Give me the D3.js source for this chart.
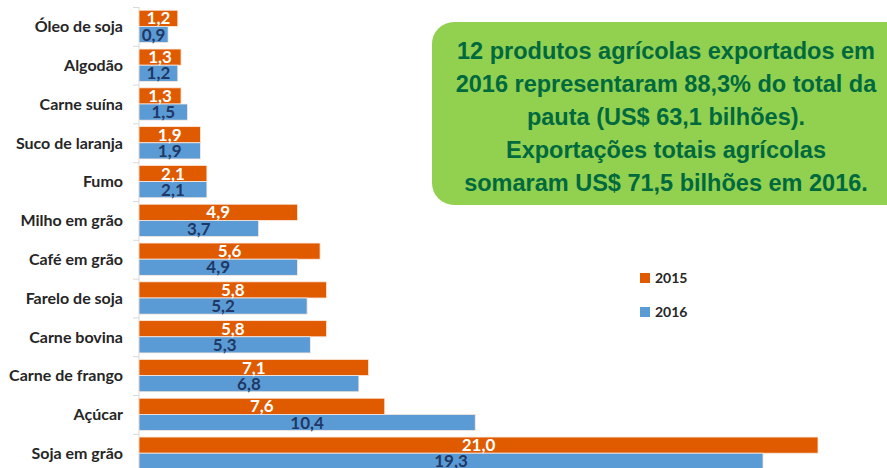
<!DOCTYPE html>
<html>
<head>
<meta charset="utf-8">
<script src="https://cdn.jsdelivr.net/npm/d3@7"></script>
<style>
  body { margin: 0; background: #fff; overflow: hidden; }
</style>
</head>
<body>
<script>
// categories, top to bottom
var produtos = ["Óleo de soja", "Algodão", "Carne suína", "Suco de laranja", "Fumo",
  "Milho em grão", "Café em grão", "Farelo de soja", "Carne bovina",
  "Carne de frango", "Açúcar", "Soja em grão"];
var anos = ["2015", "2016"];
var valores2015 = [1.2, 1.3, 1.3, 1.9, 2.1, 4.9, 5.6, 5.8, 5.8, 7.1, 7.6, 21.0];
var valores2016 = [0.9, 1.2, 1.5, 1.9, 2.1, 3.7, 4.9, 5.2, 5.3, 6.8, 10.4, 19.3];
var caixaTexto = ["12 produtos agrícolas exportados em",
  "2016 representaram 88,3% do total da",
  "pauta (US$ 63,1 bilhões).",
  "Exportações totais agrícolas",
  "somaram US$ 71,5 bilhões em 2016."];

var cores = {"2015": "#e05a00", "2016": "#5b9bd5"};
var corTexto = {"2015": "#ffffff", "2016": "#1f3864"};

var W = 887, H = 468;
var svg = d3.select("body").append("svg")
  .attr("width", W).attr("height", H);

var x = d3.scaleLinear().domain([0, 21]).range([139, 818]);
var y = d3.scaleBand().domain(produtos).range([7, 7 + 12 * 38.8]).padding(0);
var ySub = d3.scaleBand().domain(anos).range([0, y.bandwidth()])
  .paddingInner(0).paddingOuter(0.2);

// build rows
var linhas = [];
produtos.forEach(function(p, i) {
  linhas.push({produto: p, ano: "2015", v: valores2015[i]});
  linhas.push({produto: p, ano: "2016", v: valores2016[i]});
});

// axis (left) with ticks at category boundaries
var eixo = svg.append("g");
eixo.append("line")
  .attr("x1", 139).attr("x2", 139)
  .attr("y1", y.range()[0]).attr("y2", H)
  .attr("stroke", "#d9d9d9").attr("stroke-width", 1);
eixo.selectAll("line.tick")
  .data(produtos)
  .enter().append("line")
  .attr("class", "tick")
  .attr("x1", 133).attr("x2", 139)
  .attr("y1", function(d) { return y(d) + 0.5; })
  .attr("y2", function(d) { return y(d) + 0.5; })
  .attr("stroke", "#d9d9d9");

eixo.selectAll("text")
  .data(produtos)
  .enter().append("text")
  .attr("x", 123)
  .attr("y", function(d) { return y(d) + y.bandwidth() / 2; })
  .attr("dy", "0.36em")
  .attr("text-anchor", "end")
  .attr("font-family", "Lato, 'Open Sans', sans-serif")
  .attr("font-weight", "bold")
  .attr("font-size", "16px")
  .attr("fill", "#262626")
  .text(function(d) { return d; });

// bars
svg.append("g").selectAll("rect")
  .data(linhas)
  .enter().append("rect")
  .attr("x", x(0))
  .attr("y", function(d) { return y(d.produto) + ySub(d.ano); })
  .attr("width", function(d) { return x(d.v) - x(0); })
  .attr("height", ySub.bandwidth())
  .attr("fill", function(d) { return cores[d.ano]; })
  .attr("stroke", "#fbe9dd")
  .attr("stroke-width", 0.8);

// value labels
var fmt = function(v) { return v.toFixed(1).replace(".", ","); };
svg.append("g").selectAll("text")
  .data(linhas)
  .enter().append("text")
  .attr("x", function(d) { return (x(0) + x(d.v)) / 2; })
  .attr("y", function(d) { return y(d.produto) + ySub(d.ano) + ySub.bandwidth() / 2; })
  .attr("dy", "0.36em")
  .attr("text-anchor", "middle")
  .attr("font-family", "Lato, 'Open Sans', sans-serif")
  .attr("font-weight", "bold")
  .attr("font-size", "17px")
  .attr("fill", function(d) { return corTexto[d.ano]; })
  .text(function(d) { return fmt(d.v); });

// legend
var leg = svg.append("g").attr("transform", "translate(640,273)");
var li = leg.selectAll("g").data(anos).enter().append("g")
  .attr("transform", function(d, i) { return "translate(0," + (i * 34) + ")"; });
li.append("rect").attr("width", 10).attr("height", 10)
  .attr("fill", function(d) { return cores[d]; });
li.append("text").attr("x", 15).attr("y", 5).attr("dy", "0.36em")
  .attr("font-family", "Lato, 'Open Sans', sans-serif")
  .attr("font-weight", "bold").attr("font-size", "14px")
  .attr("fill", "#262626")
  .text(function(d) { return d; });

// green text box
var caixa = svg.append("g");
caixa.append("rect")
  .attr("x", 432).attr("y", 22).attr("width", 480).attr("height", 183)
  .attr("rx", 22).attr("ry", 22)
  .attr("fill", "#92d050");
caixa.selectAll("text")
  .data(caixaTexto)
  .enter().append("text")
  .attr("x", 666)
  .attr("y", function(d, i) { return 51 + i * 32.8; })
  .attr("dy", "0.36em")
  .attr("text-anchor", "middle")
  .attr("font-family", "'Liberation Sans', Arial, sans-serif")
  .attr("font-weight", "bold")
  .attr("font-size", "23.5px")
  .attr("fill", "#00693e")
  .text(function(d) { return d; });
</script>
</body>
</html>
